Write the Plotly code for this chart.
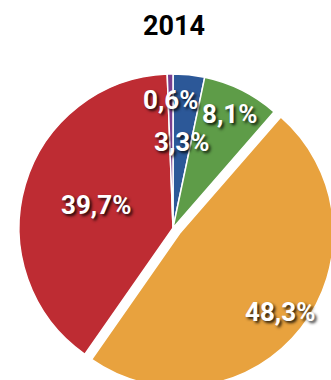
import math
import plotly.graph_objects as go

# ---- data ----
categories = ["Blu", "Verde", "Arancione", "Rosso", "Viola"]
values = [3.3, 8.1, 48.3, 39.7, 0.6]
colors = ["#2C5898", "#5E9C48", "#E8A23E", "#BE2C33", "#7A3E8E"]
pulls = [0, 0, 0.055, 0, 0]
title_text = "2014"
label_radius = [0.56, 0.83, 0.83, 0.52, 0.83]

# ---- figure geometry (pixels) ----
W, H = 338, 394
CX, CY = 173, 228          # pie centre
R = 154                    # pie radius
maxpull = max(pulls)
half = R * (1 + maxpull)

dom_x = [(CX - half) / W, (CX + half) / W]
dom_y = [(H - (CY + half)) / H, (H - (CY - half)) / H]

labels_txt = [("%.1f%%" % v).replace(".", ",") for v in values]

fig = go.Figure()
fig.add_trace(go.Pie(
    labels=categories,
    values=values,
    sort=False,
    direction="clockwise",
    rotation=0,
    pull=pulls,
    marker=dict(colors=colors, line=dict(color="white", width=1.5)),
    textinfo="none",
    hoverinfo="label+percent",
    showlegend=False,
    domain=dict(x=dom_x, y=dom_y),
))

# labels placed from the data's cumulative angles
font_fam = "Roboto, Arial, sans-serif"
tot = sum(values)
cum = 0
for v, txt, lr, p in zip(values, labels_txt, label_radius, pulls):
    mid = (cum + v / 2) / tot * 2 * math.pi
    cum += v
    r = lr * R + p * R
    px = CX + r * math.sin(mid)
    py = CY - r * math.cos(mid)
    fig.add_annotation(
        x=px / W, y=1 - py / H, xref="paper", yref="paper",
        text=txt, showarrow=False,
        xanchor="center", yanchor="middle",
        font=dict(family=font_fam, size=26, color="white", weight="bold",
                  shadow="2px 2px 3px rgba(0,0,0,0.85)"),
    )

fig.add_annotation(
    x=173.5 / W, y=1 - 26 / H, xref="paper", yref="paper",
    text=title_text, showarrow=False,
    xanchor="center", yanchor="middle",
    font=dict(family=font_fam, size=27, color="black", weight="bold"),
)

fig.update_layout(
    width=W, height=H, autosize=False,
    margin=dict(l=0, r=0, t=0, b=0),
    paper_bgcolor="white", plot_bgcolor="white",
)

fig.write_html(
    "out.html",
    config={"displayModeBar": False},
    post_script="document.documentElement.style.overflow='hidden';"
                "document.body.style.overflow='hidden';"
                "document.body.style.margin='0';",
)
